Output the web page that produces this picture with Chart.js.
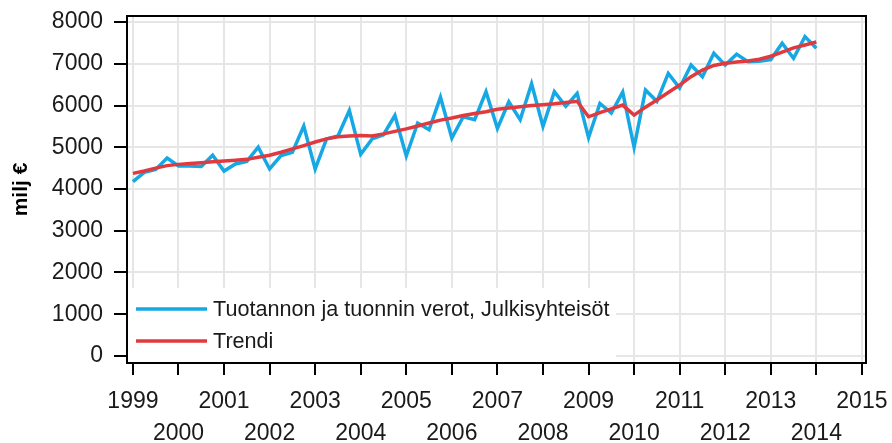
<!DOCTYPE html>
<html>
<head>
<meta charset="utf-8">
<script src="https://cdn.jsdelivr.net/npm/chart.js@4.4.1/dist/chart.umd.min.js"></script>
<style>
body{margin:0;background:#fff;}
#wrap{width:892px;height:443px;position:relative;}
</style>
</head>
<body>
<div id="wrap"><canvas id="chart"></canvas></div>
<script>
// quarters 1999Q1 - 2014Q1
const quarters = [
  '1999Q1','1999Q2','1999Q3','1999Q4','2000Q1','2000Q2','2000Q3','2000Q4',
  '2001Q1','2001Q2','2001Q3','2001Q4','2002Q1','2002Q2','2002Q3','2002Q4',
  '2003Q1','2003Q2','2003Q3','2003Q4','2004Q1','2004Q2','2004Q3','2004Q4',
  '2005Q1','2005Q2','2005Q3','2005Q4','2006Q1','2006Q2','2006Q3','2006Q4',
  '2007Q1','2007Q2','2007Q3','2007Q4','2008Q1','2008Q2','2008Q3','2008Q4',
  '2009Q1','2009Q2','2009Q3','2009Q4','2010Q1','2010Q2','2010Q3','2010Q4',
  '2011Q1','2011Q2','2011Q3','2011Q4','2012Q1','2012Q2','2012Q3','2012Q4',
  '2013Q1','2013Q2','2013Q3','2013Q4','2014Q1'
];
const taxes = [
  4175,4400,4470,4740, 4550,4550,4540,4810, 4430,4600,4660,5000, 4480,4800,4880,5510,
  4480,5200,5270,5880, 4830,5200,5300,5760, 4790,5580,5420,6200, 5220,5730,5660,6330,
  5450,6090,5660,6520, 5500,6330,5980,6290, 5230,6050,5820,6320, 5000,6370,6100,6770,
  6420,6970,6690,7250, 6970,7230,7050,7060, 7100,7490,7130,7650, 7370
];
const trend = [
  4375,4430,4500,4560, 4590,4610,4630,4650, 4670,4690,4710,4760, 4810,4880,4960,5040,
  5125,5200,5250,5270, 5280,5270,5320,5380, 5440,5510,5580,5650, 5700,5760,5810,5850,
  5910,5940,5970,6000, 6020,6040,6070,6100, 5730,5830,5920,6010, 5770,5960,6130,6310,
  6490,6690,6850,6960, 7010,7040,7065,7110, 7180,7280,7380,7450, 7520
];
const yearTicks = [1999,2000,2001,2002,2003,2004,2005,2006,2007,2008,2009,2010,2011,2012,2013,2014,2015];
const valueTicks = [0,1000,2000,3000,4000,5000,6000,7000,8000];

const seriesNames = ['Tuotannon ja tuonnin verot, Julkisyhteisöt', 'Trendi'];
const colors = ['#15a8e4', '#e03a3e'];

function quarterToX(q) {
  const parts = q.split('Q');
  return Number(parts[0]) + (Number(parts[1]) - 1) / 4;
}
function toPoints(values) {
  return quarters.map((q, i) => ({x: quarterToX(q), y: values[i]}));
}

Chart.defaults.font.family = "'Liberation Sans', Arial, sans-serif";
Chart.defaults.color = '#1a1a1a';

// box round the plot area
const framePlugin = {
  id: 'frame',
  afterDraw(chart) {
    const {ctx, chartArea: a} = chart;
    ctx.save();
    ctx.strokeStyle = '#000';
    ctx.lineWidth = 2;
    ctx.beginPath();
    ctx.moveTo(a.left, a.top);
    ctx.lineTo(a.right, a.top);
    ctx.lineTo(a.right, a.bottom);
    ctx.stroke();
    ctx.restore();
  }
};

// legend inside the plot, bottom left
const legendBox = {
  id: 'legendBox',
  beforeDatasetsDraw(chart) {
    const {ctx, chartArea: a} = chart;
    ctx.save();
    ctx.fillStyle = '#fff';
    ctx.fillRect(a.left + 1, 288, 615 - a.left, a.bottom - 289);
    ctx.font = "21.6px 'Liberation Sans', Arial, sans-serif";
    ctx.textBaseline = 'middle';
    const rows = [309, 341];
    seriesNames.forEach((name, i) => {
      ctx.strokeStyle = colors[i];
      ctx.lineWidth = 3.5;
      ctx.beginPath();
      ctx.moveTo(136, rows[i]);
      ctx.lineTo(207, rows[i]);
      ctx.stroke();
      ctx.fillStyle = '#1a1a1a';
      ctx.fillText(name, 213, rows[i] + 1);
    });
    ctx.restore();
  }
};

new Chart(document.getElementById('chart'), {
  type: 'line',
  data: {
    datasets: [
      {
        label: seriesNames[0],
        data: toPoints(taxes),
        borderColor: colors[0],
        borderWidth: 3.5,
        pointRadius: 0,
        tension: 0,
        order: 1
      },
      {
        label: seriesNames[1],
        data: toPoints(trend),
        borderColor: colors[1],
        borderWidth: 3.5,
        pointRadius: 0,
        tension: 0,
        order: 0
      }
    ]
  },
  options: {
    responsive: true,
    maintainAspectRatio: false,
    animation: false,
    layout: {padding: {top: 16, right: 26, left: 0, bottom: 0}},
    plugins: {
      legend: {display: false},
      tooltip: {enabled: false}
    },
    scales: {
      x: {
        type: 'linear',
        min: 1998.87,
        max: 2015.09,
        afterBuildTicks: scale => { scale.ticks = yearTicks.map(v => ({value: v})); },
        afterFit: scale => { scale.height = 80; scale.paddingLeft = 0; scale.paddingRight = 0; },
        grid: {color: '#e6e6e6', lineWidth: 2, tickColor: '#000', tickWidth: 2, tickLength: 12},
        border: {color: '#000', width: 2},
        ticks: {
          autoSkip: false,
          maxRotation: 0,
          padding: 11,
          font: {size: 23, lineHeight: 1.37},
          callback: v => (v % 2 === 1 ? [String(v), ''] : ['', String(v)])
        }
      },
      y: {
        min: -168,
        max: 8144,
        afterBuildTicks: scale => { scale.ticks = valueTicks.map(v => ({value: v})); },
        afterFit: scale => { scale.width = 127; scale.paddingTop = 0; scale.paddingBottom = 0; },
        grid: {color: '#e6e6e6', lineWidth: 2, tickColor: '#000', tickWidth: 2, tickLength: 13},
        border: {color: '#000', width: 2},
        ticks: {
          padding: 11,
          font: {size: 23},
          callback: v => String(v)
        },
        title: {
          display: true,
          text: 'milj €',
          color: '#000',
          font: {size: 21, weight: 'bold'},
          padding: {top: 9, bottom: 0}
        }
      }
    }
  },
  plugins: [framePlugin, legendBox]
});
</script>
</body>
</html>
